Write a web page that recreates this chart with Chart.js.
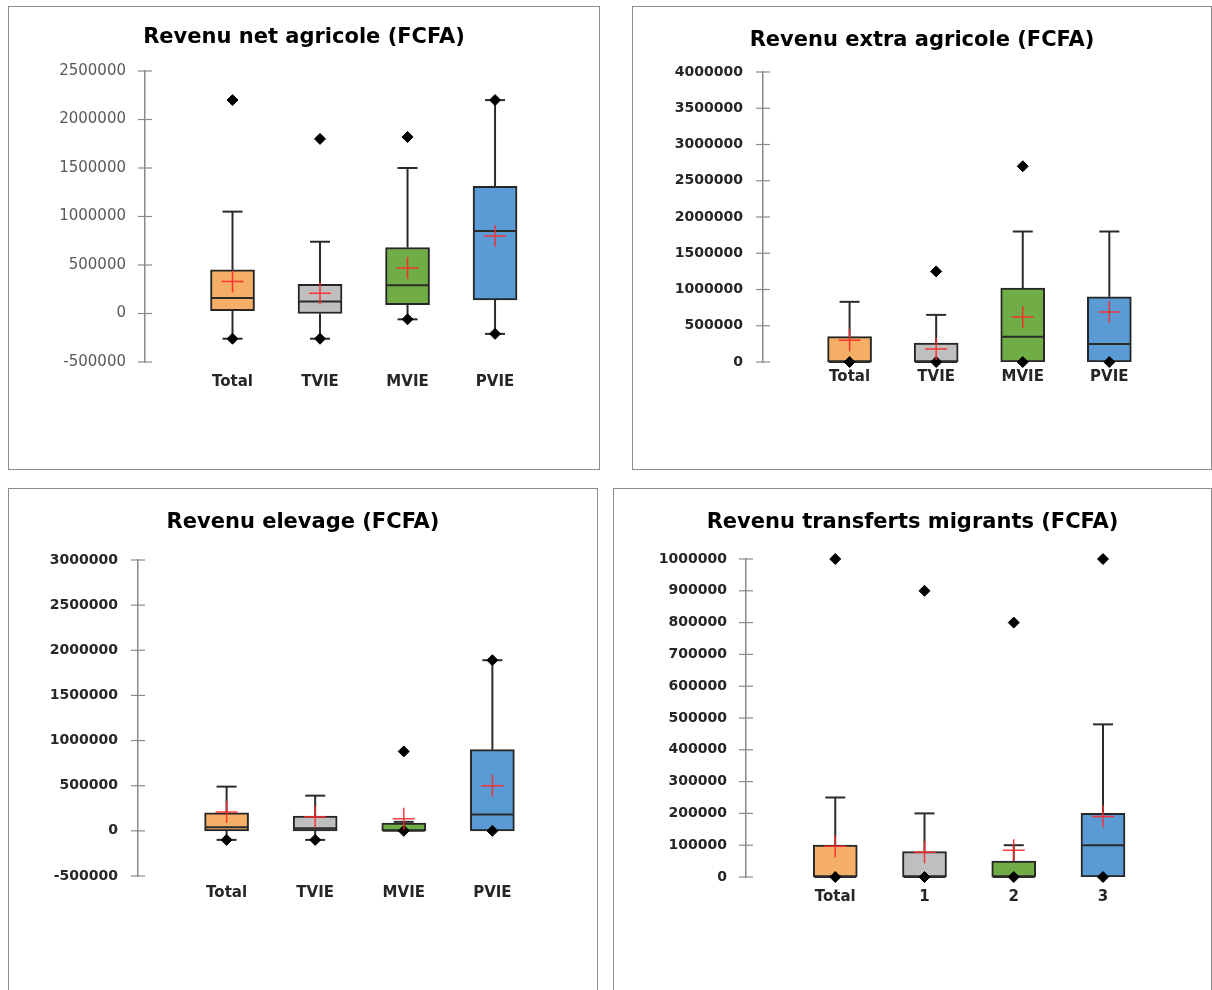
<!DOCTYPE html>
<html>
<head>
<meta charset="utf-8">
<script src="https://cdn.jsdelivr.net/npm/chart.js@4.4.0/dist/chart.umd.min.js"></script>
<style>
  body { margin: 0; background: #fff; width: 1212px; height: 990px; position: relative; overflow: hidden; }
  .panel { position: absolute; border: 1px solid #8c8c8c; box-sizing: border-box; background: #fff; }
  .panel canvas { display: block; }
</style>
</head>
<body>
<div class="panel" style="left:8px;top:6px;width:592px;height:464px"><canvas id="agri" width="590" height="462"></canvas></div>
<div class="panel" style="left:632px;top:6px;width:580px;height:464px"><canvas id="extra" width="578" height="462"></canvas></div>
<div class="panel" style="left:8px;top:488px;width:590px;height:512px"><canvas id="elevage" width="588" height="510"></canvas></div>
<div class="panel" style="left:613px;top:488px;width:599px;height:512px"><canvas id="migrants" width="597" height="510"></canvas></div>

<script>
const groups = ["Total", "TVIE", "MVIE", "PVIE"];
const groupsMigrants = ["Total", "1", "2", "3"];

// Revenu net agricole
const agriQ1 = [30000, 0, 90000, 140000];
const agriMedian = [160000, 125000, 290000, 850000];
const agriQ3 = [450000, 300000, 680000, 1310000];
const agriLow = [-260000, -260000, -60000, -210000];
const agriHigh = [1050000, 740000, 1500000, 2200000];
const agriMean = [330000, 210000, 470000, 800000];
const agriMinMark = [-260000, -260000, -60000, -210000];
const agriMaxMark = [2200000, 1800000, 1820000, 2200000];
const agriTicks = [-500000, 0, 500000, 1000000, 1500000, 2000000, 2500000];

// Revenu extra agricole
const extraQ1 = [0, 0, 0, 0];
const extraMedian = [0, 0, 350000, 250000];
const extraQ3 = [350000, 260000, 1020000, 900000];
const extraLow = [0, 0, 0, 0];
const extraHigh = [830000, 650000, 1800000, 1800000];
const extraMean = [300000, 180000, 620000, 690000];
const extraMinMark = [0, 0, 0, 0];
const extraMaxMark = [null, 1250000, 2700000, null];
const extraTicks = [0, 500000, 1000000, 1500000, 2000000, 2500000, 3000000, 3500000, 4000000];

// Revenu elevage
const elevQ1 = [0, 0, 0, 0];
const elevMedian = [40000, 30000, 0, 180000];
const elevQ3 = [200000, 165000, 85000, 900000];
const elevLow = [-100000, -100000, 0, 0];
const elevHigh = [490000, 390000, 100000, 1890000];
const elevMean = [210000, 155000, 135000, 500000];
const elevMinMark = [-100000, -100000, 0, 0];
const elevMaxMark = [null, null, 880000, 1890000];
const elevTicks = [-500000, 0, 500000, 1000000, 1500000, 2000000, 2500000, 3000000];

// Revenu transferts migrants
const migQ1 = [0, 0, 0, 0];
const migMedian = [0, 0, 0, 100000];
const migQ3 = [100000, 80000, 50000, 200000];
const migLow = [0, 0, 0, 0];
const migHigh = [250000, 200000, 100000, 480000];
const migMean = [97000, 78000, 84000, 190000];
const migMinMark = [0, 0, 0, 0];
const migMaxMark = [1000000, 900000, 800000, 1000000];
const migTicks = [0, 100000, 200000, 300000, 400000, 500000, 600000, 700000, 800000, 900000, 1000000];

const boxColors = ["#F4AE66", "#BFBFBF", "#70AD47", "#5B9BD5"];

const boxParts = {
  id: "boxParts",
  beforeDatasetsDraw(chart) {
    const ys = chart.scales.y;
    const ctx = chart.ctx;
    const x0 = chart.chartArea.left;
    ctx.save();
    ctx.strokeStyle = "#8a8a8a";
    ctx.lineWidth = 1.2;
    ys.ticks.forEach((t) => {
      const y = ys.getPixelForValue(t.value);
      ctx.beginPath();
      ctx.moveTo(x0 - 7, y);
      ctx.lineTo(x0 + 7, y);
      ctx.stroke();
    });
    ctx.restore();
  },
  afterDatasetDraw(chart, args) {
    if (args.index !== 0) return;
    const s = chart.data.datasets[0].stats;
    const ys = chart.scales.y;
    const ctx = chart.ctx;
    const line = (x1, y1, x2, y2) => {
      ctx.beginPath();
      ctx.moveTo(x1, y1);
      ctx.lineTo(x2, y2);
      ctx.stroke();
    };
    ctx.save();
    ctx.strokeStyle = "#2b2b2b";
    args.meta.data.forEach((bar, i) => {
      const x = bar.x;
      const half = bar.width / 2;
      const q1 = ys.getPixelForValue(s.q1[i]);
      const q3 = ys.getPixelForValue(s.q3[i]);
      const lo = ys.getPixelForValue(s.low[i]);
      const hi = ys.getPixelForValue(s.high[i]);
      const md = ys.getPixelForValue(s.median[i]);
      ctx.lineWidth = 2;
      if (s.high[i] > s.q3[i]) {
        line(x, q3, x, hi);
        line(x - 10, hi, x + 10, hi);
      }
      if (s.low[i] < s.q1[i]) {
        line(x, q1, x, lo);
        line(x - 10, lo, x + 10, lo);
      }
      line(x - half + 1, md, x + half - 1, md);
    });
    ctx.restore();
  },
};

function makeBoxChart(id, title, cats, s, ticks, lay) {
  const boxData = cats.map((c, i) => ({ x: i, y: [s.q1[i], s.q3[i]] }));
  const pts = (arr) => arr.map((v, i) => ({ x: i, y: v })).filter((p) => p.y !== null);
  const diamond = {
    type: "line",
    showLine: false,
    clip: false,
    pointStyle: "rectRot",
    pointRadius: 5.5,
    pointBackgroundColor: "#000",
    pointBorderColor: "#000",
    pointBorderWidth: 1,
    order: 2,
  };
  const tickFont = lay.plainTicks
    ? { family: "DejaVu Sans", size: 15 }
    : { family: "DejaVu Sans", size: 14, weight: "bold" };

  return new Chart(document.getElementById(id), {
    type: "bar",
    data: {
      datasets: [
        {
          type: "bar",
          data: boxData,
          stats: s,
          backgroundColor: boxColors,
          borderColor: "#262626",
          borderWidth: 2,
          borderSkipped: false,
          barThickness: 44,
          order: 3,
        },
        { ...diamond, data: pts(s.minMark) },
        { ...diamond, data: pts(s.maxMark) },
        {
          type: "line",
          data: pts(s.mean),
          showLine: false,
          clip: false,
          pointStyle: "cross",
          pointRadius: 11,
          pointBorderColor: "rgba(255,40,40,0.9)",
          pointBorderWidth: 1.5,
          order: 1,
        },
      ],
    },
    options: {
      responsive: false,
      animation: false,
      layout: { padding: 0 },
      plugins: {
        legend: { display: false },
        tooltip: { enabled: false },
        title: {
          display: true,
          text: title,
          color: "#000",
          font: { family: "DejaVu Sans", size: 21, weight: "bold" },
          padding: { top: lay.titleTop, bottom: lay.titleBottom },
        },
      },
      scales: {
        x: {
          type: "linear",
          min: -1,
          max: lay.xMax,
          offset: false,
          grid: { display: false, drawTicks: false },
          border: { display: false },
          ticks: {
            stepSize: 1,
            autoSkip: false,
            maxRotation: 0,
            padding: lay.xPad,
            color: "#262626",
            font: { family: "DejaVu Sans", size: 15, weight: "bold" },
            callback: (v) => (cats[v] !== undefined ? cats[v] : ""),
          },
          afterFit: (sc) => { sc.height = lay.xHeight; },
        },
        y: {
          min: ticks[0],
          max: ticks[ticks.length - 1],
          grid: { display: false, drawTicks: false },
          border: { display: true, color: "#8a8a8a", width: 1.5 },
          ticks: {
            stepSize: ticks[1] - ticks[0],
            padding: lay.yPad,
            color: lay.plainTicks ? "#595959" : "#262626",
            font: tickFont,
            callback: (v) => String(v),
          },
          afterFit: (sc) => { sc.width = lay.axisX; },
        },
      },
    },
    plugins: [boxParts],
  });
}

makeBoxChart("agri", "Revenu net agricole (FCFA)", groups,
  { q1: agriQ1, median: agriMedian, q3: agriQ3, low: agriLow, high: agriHigh, mean: agriMean, minMark: agriMinMark, maxMark: agriMaxMark },
  agriTicks,
  { axisX: 136, xMax: 4.045, titleTop: 18.4, titleBottom: 20.4, xHeight: 107, xPad: 11, yPad: 19, plainTicks: true });

makeBoxChart("extra", "Revenu extra agricole (FCFA)", groups,
  { q1: extraQ1, median: extraMedian, q3: extraQ3, low: extraLow, high: extraHigh, mean: extraMean, minMark: extraMinMark, maxMark: extraMaxMark },
  extraTicks,
  { axisX: 130, xMax: 4.03, titleTop: 21.4, titleBottom: 18.4, xHeight: 107, xPad: 6, yPad: 20 });

makeBoxChart("elevage", "Revenu elevage (FCFA)", groups,
  { q1: elevQ1, median: elevMedian, q3: elevQ3, low: elevLow, high: elevHigh, mean: elevMean, minMark: elevMinMark, maxMark: elevMaxMark },
  elevTicks,
  { axisX: 129, xMax: 4.04, titleTop: 21.4, titleBottom: 24.4, xHeight: 123, xPad: 8, yPad: 20 });

makeBoxChart("migrants", "Revenu transferts migrants (FCFA)", groupsMigrants,
  { q1: migQ1, median: migMedian, q3: migQ3, low: migLow, high: migHigh, mean: migMean, minMark: migMinMark, maxMark: migMaxMark },
  migTicks,
  { axisX: 132, xMax: 4.07, titleTop: 21.4, titleBottom: 23.4, xHeight: 122, xPad: 11, yPad: 19 });
</script>
</body>
</html>
